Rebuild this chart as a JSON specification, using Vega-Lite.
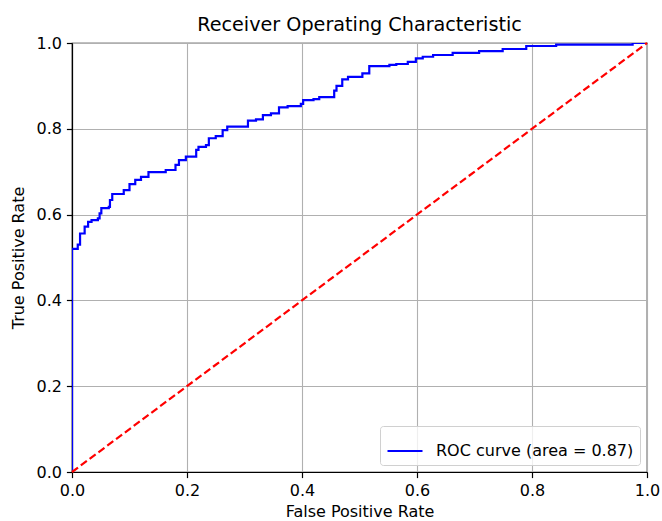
{
  "$schema": "https://vega.github.io/schema/vega-lite/v6.json",
  "width": 575,
  "height": 429,
  "autosize": {"type": "none"},
  "padding": {"left": 72, "top": 43, "right": 15, "bottom": 49},
  "background": "white",
  "title": {"text": "Receiver Operating Characteristic", "font": "DejaVu Sans", "fontSize": 19.2, "fontWeight": "normal", "color": "black", "offset": 0},
  "config": {
    "view": {"stroke": "black", "strokeWidth": 1.2},
    "axis": {
      "labelFont": "DejaVu Sans", "labelFontSize": 16, "labelColor": "black", "labelFlush": false,
      "titleFont": "DejaVu Sans", "titleFontSize": 16, "titleFontWeight": "normal", "titleColor": "black",
      "gridColor": "#b0b0b0", "gridWidth": 1.1, "gridOpacity": 1,
      "domainColor": "black", "domainWidth": 1.2,
      "tickColor": "black", "tickSize": 5.6, "tickWidth": 1.2
    }
  },
  "layer": [
    {
      "data": {"values": [
        {"fpr": 0, "tpr": 0},
        {"fpr": 0, "tpr": 0.52},
        {"fpr": 0.01, "tpr": 0.53},
        {"fpr": 0.014, "tpr": 0.556},
        {"fpr": 0.022, "tpr": 0.572},
        {"fpr": 0.028, "tpr": 0.583},
        {"fpr": 0.034, "tpr": 0.587},
        {"fpr": 0.045, "tpr": 0.591},
        {"fpr": 0.048, "tpr": 0.603},
        {"fpr": 0.051, "tpr": 0.615},
        {"fpr": 0.064, "tpr": 0.618},
        {"fpr": 0.066, "tpr": 0.634},
        {"fpr": 0.07, "tpr": 0.648},
        {"fpr": 0.09, "tpr": 0.657},
        {"fpr": 0.1, "tpr": 0.671},
        {"fpr": 0.11, "tpr": 0.681},
        {"fpr": 0.12, "tpr": 0.688},
        {"fpr": 0.133, "tpr": 0.699},
        {"fpr": 0.163, "tpr": 0.704},
        {"fpr": 0.18, "tpr": 0.716},
        {"fpr": 0.186, "tpr": 0.727},
        {"fpr": 0.198, "tpr": 0.735},
        {"fpr": 0.216, "tpr": 0.751},
        {"fpr": 0.22, "tpr": 0.758},
        {"fpr": 0.233, "tpr": 0.762},
        {"fpr": 0.238, "tpr": 0.778},
        {"fpr": 0.25, "tpr": 0.783},
        {"fpr": 0.262, "tpr": 0.797},
        {"fpr": 0.27, "tpr": 0.805},
        {"fpr": 0.306, "tpr": 0.819},
        {"fpr": 0.32, "tpr": 0.822},
        {"fpr": 0.332, "tpr": 0.832},
        {"fpr": 0.346, "tpr": 0.836},
        {"fpr": 0.36, "tpr": 0.85},
        {"fpr": 0.375, "tpr": 0.853},
        {"fpr": 0.398, "tpr": 0.858},
        {"fpr": 0.402, "tpr": 0.867},
        {"fpr": 0.42, "tpr": 0.869},
        {"fpr": 0.43, "tpr": 0.874},
        {"fpr": 0.456, "tpr": 0.889},
        {"fpr": 0.46, "tpr": 0.9},
        {"fpr": 0.47, "tpr": 0.915},
        {"fpr": 0.48, "tpr": 0.921},
        {"fpr": 0.505, "tpr": 0.929},
        {"fpr": 0.517, "tpr": 0.946},
        {"fpr": 0.552, "tpr": 0.949},
        {"fpr": 0.564, "tpr": 0.951},
        {"fpr": 0.584, "tpr": 0.956},
        {"fpr": 0.598, "tpr": 0.964},
        {"fpr": 0.61, "tpr": 0.968},
        {"fpr": 0.628, "tpr": 0.972},
        {"fpr": 0.662, "tpr": 0.977},
        {"fpr": 0.708, "tpr": 0.981},
        {"fpr": 0.749, "tpr": 0.986},
        {"fpr": 0.79, "tpr": 0.993},
        {"fpr": 0.842, "tpr": 0.996},
        {"fpr": 0.975, "tpr": 1.0},
        {"fpr": 1, "tpr": 1.0}
      ]},
      "transform": [{"calculate": "'ROC curve (area = 0.87)'", "as": "series"}],
      "mark": {"type": "line", "interpolate": "step-after", "strokeWidth": 2.2, "clip": true},
      "encoding": {
        "x": {"field": "fpr", "type": "quantitative", "scale": {"domain": [0, 1], "nice": false, "zero": false},
              "axis": {"title": "False Positive Rate", "values": [0, 0.2, 0.4, 0.6, 0.8, 1.0], "format": ".1f", "titlePadding": 5, "labelPadding": 5}},
        "y": {"field": "tpr", "type": "quantitative", "scale": {"domain": [0, 1], "nice": false, "zero": false},
              "axis": {"title": "True Positive Rate", "values": [0, 0.2, 0.4, 0.6, 0.8, 1.0], "format": ".1f", "titlePadding": 9, "labelPadding": 5}},
        "color": {"field": "series", "type": "nominal", "scale": {"range": ["blue"]},
                  "legend": {"title": null, "orient": "bottom-right", "offset": 7, "symbolType": "stroke", "symbolSize": 1225, "symbolStrokeWidth": 2.2,
                             "labelFont": "DejaVu Sans", "labelFontSize": 16, "labelColor": "black", "labelOffset": 12, "labelLimit": 400,
                             "strokeColor": "#d0d0d0", "fillColor": "rgba(255,255,255,0.8)", "padding": 6, "cornerRadius": 3}}
      }
    },
    {
      "data": {"values": [{"fpr": 0, "tpr": 0}, {"fpr": 1, "tpr": 1}]},
      "mark": {"type": "line", "color": "red", "strokeWidth": 2.2, "strokeDash": [7.5, 3.5]},
      "encoding": {
        "x": {"field": "fpr", "type": "quantitative"},
        "y": {"field": "tpr", "type": "quantitative"}
      }
    }
  ]
}
